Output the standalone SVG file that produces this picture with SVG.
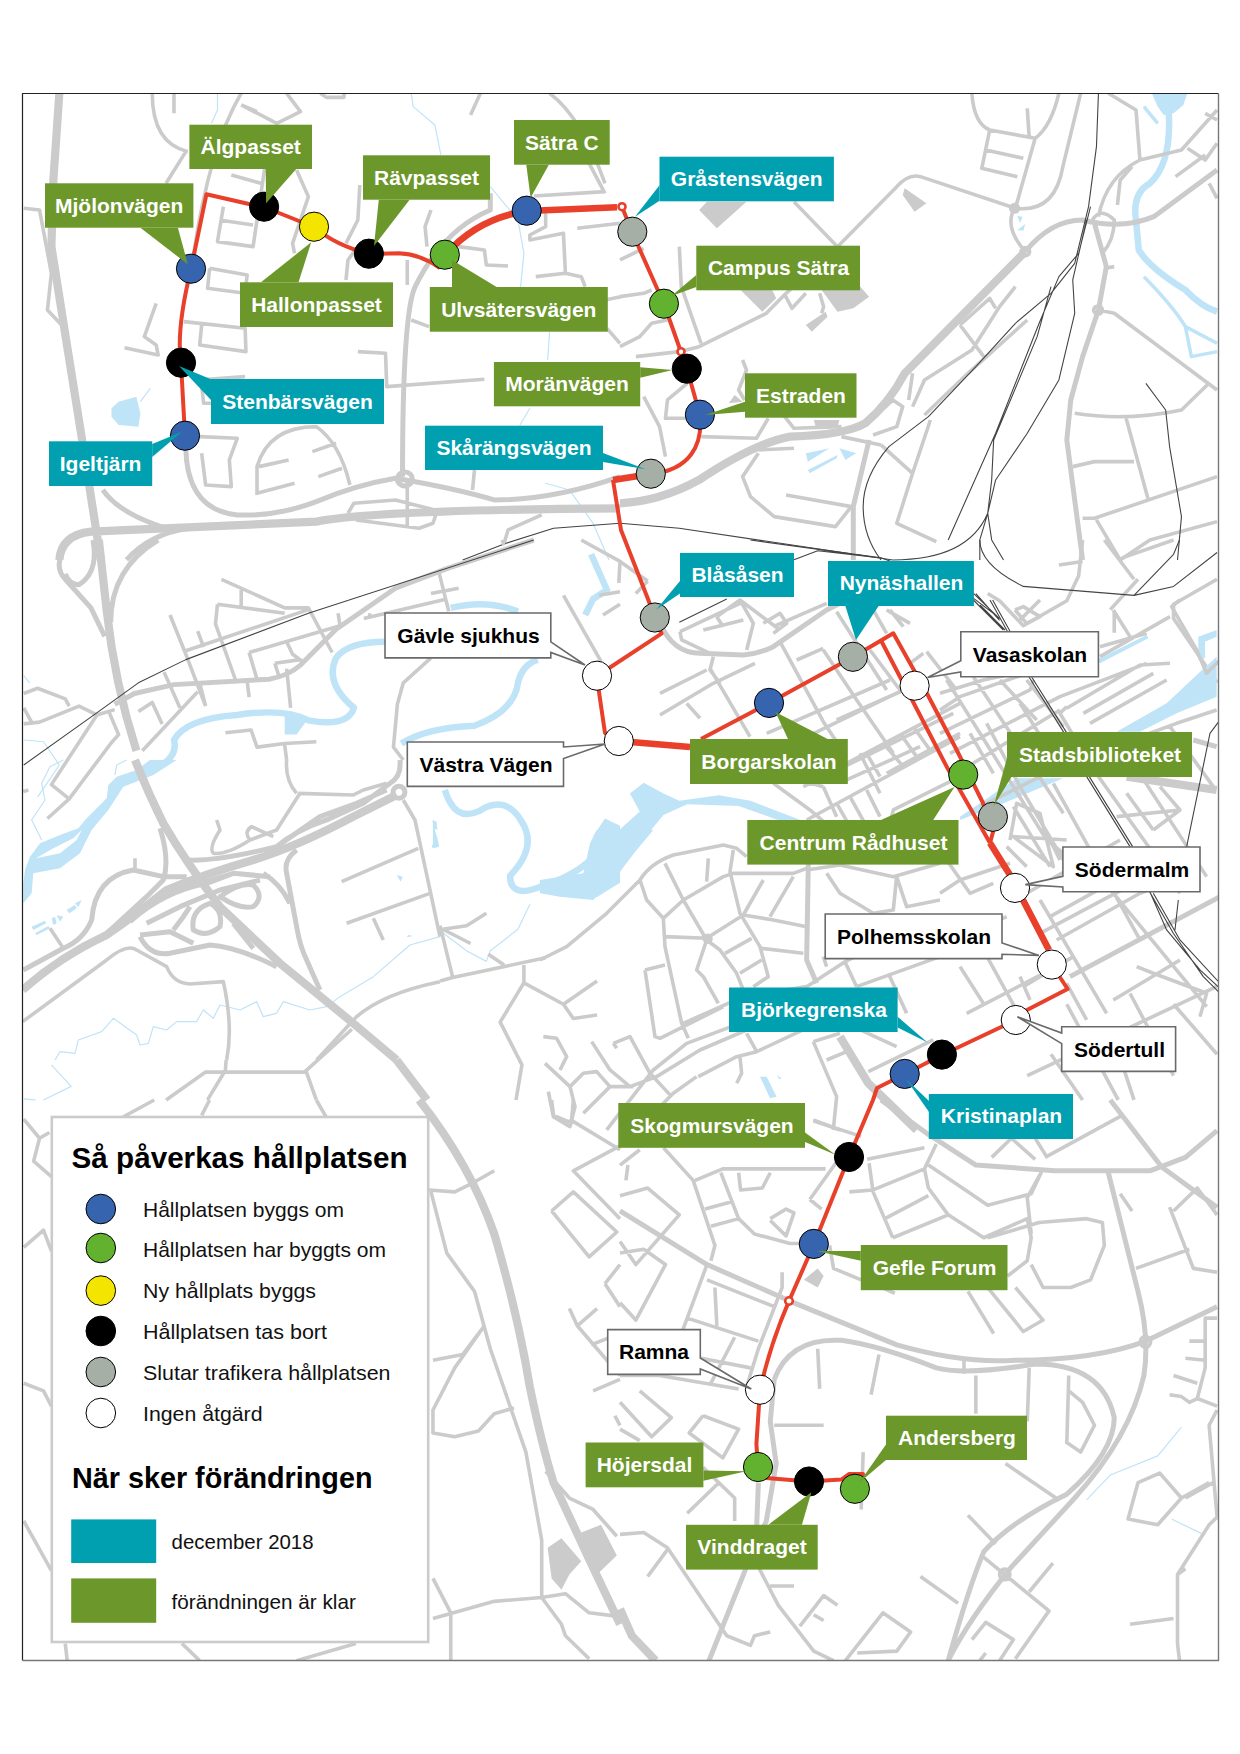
<svg xmlns="http://www.w3.org/2000/svg" width="1240" height="1754" viewBox="0 0 1240 1754">
<defs><clipPath id="mapclip"><rect x="22.5" y="93.5" width="1196" height="1567"/></clipPath></defs>
<style>
path{fill:none;stroke-linejoin:round;vector-effect:non-scaling-stroke}
.r1{stroke:#cbcbcb;stroke-width:3.6}
.r2{stroke:#cbcbcb;stroke-width:5}
.r3{stroke:#cbcbcb;stroke-width:8.2}
.rail{stroke:#444;stroke-width:1.1}
.w1{stroke:#bfe4f8;stroke-width:1.2}
.w2{stroke:#bfe4f8;stroke-width:6.5}
.w3{stroke:#bfe4f8;stroke-width:3.5}
.wf{fill:#bfe4f8;stroke:none}
.bf{fill:#cbcbcb;stroke:none}
.hole{fill:#fff;stroke:none}
.route{fill:none;stroke:#e8402a;stroke-width:4;stroke-linejoin:round;vector-effect:none}
.thick{stroke-width:6.6}
.ring{fill:#fff;stroke:#e8402a;stroke-width:2.6}
circle.s{stroke:#000;stroke-width:1}
.blue{fill:#3764ae}.green{fill:#62b22f}.yellow{fill:#f4e500}.black{fill:#000}.gray{fill:#a5afa5}.white{fill:#fff}
.tl{fill:#00a0b1}.gr{fill:#6c972a}
.wb{fill:#fff;stroke:#6a6a6a;stroke-width:1.6}
text{font-family:"Liberation Sans",Arial,sans-serif}
.lab{font-size:21px;font-weight:700;text-anchor:middle;fill:#fff}
.lab.k{fill:#000}
.h{font-size:29.6px;font-weight:700;fill:#000}
.t{font-size:21px;fill:#111}
</style>
<rect width="1240" height="1754" fill="#fff"/>
<g id="map" clip-path="url(#mapclip)">
<g transform="translate(0,80) scale(.3954,.3333)">
<path class="w1" d="M1040 40L1045 80L1100 135L1115 225M1240 320L1310 420L1325 520L1315 640M1390 755L1385 840M1340 985L1315 1035M1380 1210L1440 1230L1500 1330L1540 1440M550 40L550 90L535 130M380 925L355 965"/>
<path class="wf" d="M282 985L300 965L345 950L355 1000L350 1040L300 1035L282 1010Z"/>
<path class="r3" d="M150 40L135 300L130 500L170 800L205 1060L255 1440M150 1440Q155 1365 230 1355L800 1325Q950 1290 1568 1285"/>
<path class="r2" d="M1240 340L1240 390Q1120 450 1050 620Q1018 700 1018 1190M470 1110Q475 1290 600 1305Q700 1310 800 1265Q900 1215 1000 1195Q1150 1225 1250 1260Q1400 1260 1568 1190M320 1440Q380 1360 480 1345M260 1230Q300 1300 420 1345"/>
<path class="r1" d="M60 385L100 390L130 580L120 690L160 740M385 40Q385 190 475 215M440 40L440 100M610 40Q530 200 490 520M470 215L420 310M610 75L700 130L760 95L725 40M650 95L610 75M810 40L825 52L870 52L870 40M1215 40L1190 105M1390 40Q1470 110 1530 310M585 285L660 310M670 260L640 500L550 485L565 380M555 420L640 435M910 315L905 420L875 490M750 270L780 350L740 490L745 520M1090 390L1075 440L1080 500M1040 720L1085 740M875 600L880 540L905 500M1030 540L1030 615M1160 500L1225 510L1230 555L1285 558M1380 400L1380 440L1340 465L1340 480L1425 460L1430 580L1355 590M1430 580L1470 590L1480 620M1490 250L1530 340M1350 348L1530 335M1460 445L1568 430M530 565L625 585L620 640L525 625L530 565M465 725L620 745L622 815L505 795L510 735M395 670L365 770L395 795L400 825L315 803M905 815L975 820L978 920L1225 898M1570 650L1530 660M1535 745L1568 790M510 915L515 970L560 970M500 900L620 890M505 1070L600 1075L580 1140L585 1220L520 1215L510 1120M650 1245L650 1160Q680 1040 800 1040Q860 1090 885 1215M655 1160L730 1140M650 1240L745 1210M790 1115L850 1090M805 1190L865 1165M880 1300L895 1270L1000 1260L1100 1290M900 1320L1060 1345L1095 1330L1105 1295M1030 1195L1030 1345M1275 1390L1285 1350L1370 1305M1200 1170L1195 1230"/>
<path class="r2" d="M1005 1197A19 21 0 1 0 1043 1197A19 21 0 1 0 1005 1197Z"/>
<path class="rail" d="M1170 1440L1280 1390L1400 1345L1568 1330"/>
</g>
<g transform="translate(620,80) scale(.3954,.3333)">
<path class="wf" d="M1345 40L1435 40L1425 75L1400 100L1375 105L1360 80Z"/>
<path class="w2" d="M1388 100Q1395 250 1340 310Q1295 340 1305 420L1312 510Q1340 565 1430 630Q1470 680 1510 695"/>
<path class="w3" d="M1325 80L1360 130M1325 590Q1400 680 1430 740L1445 830L1510 815M1430 740L1510 790"/>
<path class="wf" d="M470 1120L530 1105L475 1145ZM475 1170L550 1125L548 1135L480 1180ZM555 1105L597 1120L570 1140ZM1005 408L1018 410L1012 430ZM1005 450L1025 432L1020 452Z"/>
<path class="bf" d="M200 390L245 445L320 365L220 365ZM720 325L775 370L745 395L715 345ZM305 630L385 630L395 655L360 695ZM510 630L600 610L630 650L590 685L550 695ZM470 735L520 695L525 710L485 755ZM490 1020L555 1020L550 1040L495 1040ZM290 945L275 970L310 965Z"/>
<path class="r3" d="M1025 515L720 880Q680 970 620 1030Q570 1065 430 1070Q340 1090 200 1200Q100 1265 0 1270"/>
<path class="r2" d="M1025 515Q1090 420 1170 420Q1270 450 1350 410L1510 270M1200 430L1230 560L1210 690L1170 830L1140 960L1130 1080L1170 1440M630 1080L590 1280L590 1440"/>
<path class="r1" d="M890 40Q895 130 935 150L1050 175Q1090 140 1110 40M1030 85L1035 175M935 150L915 265L1005 290M925 210L1020 235M1165 40L1120 260Q1100 400 1000 385M1050 175L1000 385M1000 385L760 290Q730 280 700 320L550 500M998 385Q970 440 1025 515M1235 40L1305 90L1315 240M1315 240L1420 210L1510 90M1315 240Q1230 290 1210 410M1435 205L1480 240L1510 190M1405 290L1480 225M1490 310L1510 355M1510 120L1480 100M1295 260L1265 300L1258 375M1195 420Q1215 380 1250 420Q1250 480 1220 520M1225 565L1250 560M1210 690L1250 700L1510 930M1150 1000Q1280 1025 1420 990L1485 915M1280 1015L1335 1255M1145 1160L1200 1145L1300 1145M1170 1315L1200 1315L1510 1190M1205 1320L1265 1440M1265 1440L1340 1380L1510 1325M440 365L550 500M150 500L155 620L205 790M550 500L420 640L370 700L200 800L150 815L40 830M415 640L435 685L470 640M505 640L515 680L510 700M0 540L60 505M0 650L60 640L80 630M0 800L50 770L80 730L120 720M310 840L320 870L300 930L315 960M170 910L120 960L115 1015L165 1015M205 1070L345 1075L375 1015M410 1000L440 1045L560 1040M60 950L100 1040L115 1130M350 1110L440 1105M350 1120L310 1190L330 1250L390 1310L545 1340L585 1280L420 1245M660 1095L740 1180L700 1330L800 1385M740 1180L785 1020M560 1070L660 1095M645 1010L690 960L715 980L700 1040L640 1065M740 880L730 960M740 980L770 900L890 810L960 680L1000 620M770 1005L880 880L1030 720M860 735L920 830M860 735L935 655L950 685M988 385A10 11 0 1 0 1008 385A10 11 0 1 0 988 385ZM1014 515A10 11 0 1 0 1036 515A10 11 0 1 0 1014 515ZM1198 690A10 11 0 1 0 1220 690A10 11 0 1 0 1198 690Z"/>
<path class="rail" d="M1210 40L1205 200L1185 380L1150 550L1090 640L1000 730L900 860L780 1010L680 1100Q615 1190 615 1280Q615 1370 660 1440M1190 380L1160 520L1110 590L1060 730L950 1060L830 1380M1180 420L1145 600L1150 700L1110 900L1030 1060L950 1200L930 1300L910 1380L910 1440M1090 620L1055 770L945 1080L940 1200L930 1300L940 1380L970 1440M930 1300Q880 1440 690 1440M0 1330L150 1345L520 1410L690 1440M1330 910L1380 990L1390 1100L1420 1310L1410 1440"/>
</g>
<g transform="translate(0,540) scale(.3954,.3571)">
<path class="w1" d="M1340 1020L1310 1090L1240 1150L1230 1180L1180 1150L1120 1100M130 1470L180 1530L110 1568M60 1565L90 1568M60 380L75 400M60 560L110 565L150 630L95 720"/>
<path class="w2" d="M410 630Q450 600 440 560Q470 500 600 490Q720 470 780 505Q880 525 895 470Q820 400 850 330Q880 285 975 285M1015 570Q1080 525 1200 520Q1300 480 1310 400Q1320 350 1360 335M1140 190Q1230 165 1310 200M1125 700Q1150 790 1210 760Q1280 710 1320 790Q1360 860 1290 940Q1290 1010 1380 965Q1480 930 1530 850M1480 210L1500 165L1535 140L1495 40"/>
<path class="wf" d="M1500 830L1530 780L1568 800L1568 960L1510 1000L1490 1000L1500 900ZM720 480L780 500L750 545L720 545ZM1095 785L1110 860L1095 860Z"/>
<path class="r3" d="M250 0L270 200Q290 400 345 590M1003 1456L1080 1568"/>
<path class="r2" d="M175 0Q130 70 165 110L230 190L265 270M235 0Q250 90 200 125Q175 125 165 95M400 0Q280 80 280 230M290 460L340 430L440 405L680 390Q730 380 760 350L850 250L1000 135L1130 80L1350 0"/>
<path class="r1" d="M1020 616L995 580L1005 460L1020 400L1090 330M60 430L95 415L165 445L175 465M60 515L100 510L200 465L245 490L290 475M60 470L80 510M245 490L130 685L175 725L280 570L300 545L275 480M175 725L120 780M560 110L720 190L780 190L840 315M430 210L470 320L520 465M610 140L610 185M550 180L720 205M550 180L545 235L595 390M500 255L515 300M470 310L780 195M630 315L650 390M630 315L860 240M725 285L740 320L765 340M695 345L760 335M695 345L705 380M725 360L735 470M625 395L630 440M415 370L455 470M505 400L520 465M500 425L360 590M350 480L385 455L410 515M1110 90L1135 200M1090 150L1160 135M920 220L1130 165M935 205L935 220M855 205L860 240M1425 155L1520 340M570 540L635 532L650 580L720 570L800 565M720 575L725 616M1113 1080L1145 1225M1120 1090L1180 1080L1230 1045M1120 1090L1190 1130M1235 1160L1275 1190M572 1456L570 1485M420 1568L520 1490L770 1490L890 1370M570 1485L525 1568M775 1490L800 1568M1113 1235L1145 1225L1380 1170M1325 1190L1325 1240L1265 1350L1320 1470L1305 1568M1325 1240L1425 1300L1450 1340L1510 1330M1425 1300L1510 1235M1525 210L1568 180M1515 155L1568 145M1470 0L1568 60L1565 120M1270 0L1275 15"/>
<path class="rail" d="M60 630L250 480L350 400L470 335L780 205L1350 0"/>
</g>
<g transform="translate(620,540) scale(.3954,.3571)">
<path class="wf" d="M0 930L0 810L50 760L25 710L60 680L110 710L150 730L250 715L330 730L400 760L470 790L440 800L300 745L170 740L110 770L50 850Z"/>
<path class="r1" d="M1170 0L1160 100L1130 170L1020 240L960 170L930 150M1240 195L1310 110M1250 200L1250 260M1510 110L1400 180L1400 220L1480 350L1510 400M1110 70L1170 60M1225 0L1300 110M1270 50L1400 0M590 0L590 50M0 60L70 115M70 115L40 150M1030 1500L1510 1250M1130 1300L1260 1568M1250 1400L1300 1568M1400 1300L1510 1440M1290 1270L1400 1500M1170 1568L1090 1440"/>
<path class="rail" d="M150 230L270 165M440 55L500 30L660 50M330 0L660 50L890 145L960 220M890 160L950 210M900 150L960 225M910 0Q910 70 1020 130L1300 155L1400 40L1415 0M1510 35L1400 130L1300 155"/>
</g>
<g transform="translate(20,760) scale(.3333)">
<path class="wf" d="M10 430L35 400L40 340L120 325L180 280L215 210L265 150L310 80L400 45L470 0L390 0L350 30L290 50L265 75L260 115L200 175L175 205L120 225L60 250L30 290L15 330L10 370Z"/>
<path class="hole" d="M48 295L100 265L160 235L185 210L170 240L120 280L70 290Z"/>
<path class="wf" d="M35 500L75 482L78 490L40 510ZM45 520L85 498L90 505L50 525ZM95 475L105 470L110 490L100 495ZM110 465L130 470L120 485ZM140 450L165 435L170 445L148 460ZM165 430L185 420L175 442ZM1235 260L1250 225L1258 260L1240 265ZM1130 345L1148 350L1142 365ZM1165 525L1180 528L1160 532ZM1237 180L1250 185L1252 210L1242 205Z"/>
<path class="w1" d="M105 900L120 875L165 880L175 840L245 815L280 775L350 825L360 855L385 850L400 800L440 810L470 785L530 785L550 750L580 775L600 735L660 750L710 725L730 770L770 760L790 725L870 750L920 740L960 710L1060 650L1170 555L1260 530M65 240L35 180L75 120L65 70L90 20L130 0M285 45L290 15L320 0"/>
<path class="r3" d="M345 0Q385 100 430 190Q500 310 600 440L780 610L1000 790L1130 900M8 690Q120 590 260 525Q340 470 440 390Q560 340 700 300Q830 260 1000 170L1130 105"/>
<path class="r2" d="M10 630L130 565Q190 540 215 480Q225 350 340 330L430 350L500 350M420 205Q450 300 430 360L380 410L260 520M500 300Q590 305 770 260Q830 210 920 180L1030 130L1110 70Q1145 50 1140 0M770 260L900 170L1010 130L1100 90M830 270Q790 300 800 340L830 500Q840 560 860 600L900 690M730 340Q780 370 810 430M600 410Q660 450 700 440Q735 410 700 375Q660 365 600 410ZM570 430Q510 450 520 510Q560 535 600 500Q610 450 570 430ZM360 530Q390 590 450 580L570 555Q650 560 770 620M360 525L450 515L520 550M330 485Q430 395 560 370L640 340M440 400L640 340L750 350M380 490L480 440L600 390L720 360M460 510L490 470L510 440M640 490L700 565M1119 97A18 18 0 1 0 1155 97A18 18 0 1 0 1119 97Z"/>
<path class="r1" d="M8 785L260 600Q320 550 350 570L440 620Q460 670 510 672L610 665Q640 800 620 900M345 295L345 325M840 100L770 210L690 240Q670 215 695 200L760 230M690 240Q620 285 580 280Q565 265 600 210L590 180M830 100Q795 60 800 0M835 100L1000 105L1030 90L1100 70M1150 120L1185 180L1260 530M965 365L1195 265M980 490L1230 400M1060 475L1090 540M90 505L130 565M10 95L25 90M890 900L1010 770Q1090 700 1260 665"/>
</g>
<g transform="translate(660,590) scale(.3333)">
<path class="r2" d="M0 100Q40 190 120 190L250 195Q300 190 340 170L500 60L540 40"/>
<path class="r1" d="M60 125L240 40M60 125L65 150L150 190M170 80L240 30L360 120M170 80L190 110M130 120L250 90M240 30L280 100L260 180M310 100L360 70L380 100L340 130M340 110L500 40M0 375L160 280L285 220M0 310L140 240M80 340L120 385M410 210L490 175M150 235L270 440M160 200L150 240L180 280M360 155L490 395L560 500M490 180L590 330L700 490M530 65L680 300M630 180L720 300M640 60L680 130M690 60L730 110M680 60L750 100M790 190L750 220M800 185L890 300M320 430L690 270M400 460L770 280M530 390L800 270M560 520L900 340M680 550L900 430M560 570L780 470M420 570L490 590M430 590L880 370M600 490L660 610M620 490L660 560M670 460L730 530M720 430L770 500M760 410L810 480M440 690L900 440M340 580L450 660L520 720M490 590L530 680M530 640L570 710M570 620L620 710M620 600L660 680M690 700L700 660L900 560"/>
</g>
<g transform="translate(940,600) scale(.3333)">
<path class="wf" d="M530 395L680 310L770 225L830 170L830 290L710 340L600 395ZM60 650L230 535L370 535L190 610L60 660ZM470 180L620 105L625 115L480 190ZM775 110L830 90L830 110L795 125L795 175L775 180Z"/>
<path class="r3" d="M560 530L830 570"/>
<path class="r2" d="M390 1130L840 890M760 420L830 440"/>
<path class="r1" d="M0 280L130 240L270 210M0 330L60 290L260 220M0 400L270 270L280 240M30 460L360 290L620 190M50 520L360 330M120 620L240 560L380 490L710 370L830 330M480 170L690 50M380 325L600 195L690 190M430 340L640 220M450 370L680 240M530 650L720 630L640 690M480 140L620 100M0 880L60 840L210 790M260 880L540 720M330 950L600 800M350 1020L600 880L700 840M300 1000L620 830M250 1160L400 1070M80 1240L350 1100M520 1200L720 1080M0 1040L200 950M20 240L320 720L420 800M100 230L370 640M180 240L290 360M260 240L370 380M520 30L570 110M90 400L160 520M140 370L240 560L400 830M240 310L340 470M380 320L360 340L390 390L440 480L640 760L720 880M540 430L800 830M690 380L820 560M660 560L720 630M560 580L640 690M340 550L600 1020M430 770L800 1220M220 620L330 800M200 740L260 800M290 640L360 780M20 780L90 880L160 850M300 900L500 1240M380 1150L440 1260M130 1050L240 1250M60 1100L130 1210M240 1130L270 1200M590 1100L640 1120L800 1180L780 1250M240 60L300 0M225 30L260 70L300 50L250 20L225 30M720 0L695 20L770 150L800 220L840 180M210 720L230 610L300 640L340 800L220 710L380 720"/>
<path class="rail" d="M150 0L200 90L260 220L370 395L440 530L570 740L680 990L780 1110L840 1165M158 0L208 90L268 220L378 395L448 530L578 740M100 0L190 90M120 15L195 90M840 360L810 400L740 740M715 900L705 990M620 860L700 1000L790 1130L840 1180M640 880L720 1020L840 1150"/>
</g>
<g transform="translate(540,830) scale(.3333)">
<path class="wf" d="M0 150L130 130L150 40L170 0L340 0L290 60L220 150L160 210L60 200L0 190ZM660 740L680 740L710 800L690 805ZM710 735L725 745L718 748Z"/>
<path class="r2" d="M805 100L800 390L830 460"/>
<path class="r3" d="M900 620L985 760L1130 900"/>
<path class="r1" d="M0 390L80 350L200 250L300 150Q330 100 400 75L550 45L590 55L620 80M300 150L320 210L370 265L375 350L425 580L445 625M375 100L430 210L500 330L540 360L590 430L610 480M370 265L430 210L550 140L580 130L760 130L800 115M505 85L500 155M580 60L570 125L600 250L660 350L685 440L640 470M375 320L500 325L610 255L700 270L800 290M610 255L670 150M690 260L760 140M555 370L635 325M600 430L665 390M665 355L790 370M500 330L470 420L490 440L535 520M430 580L610 500L800 470L915 395L1070 320L1200 290M315 420L375 405M315 420L345 620L360 625L550 530M220 640L270 620L330 730L395 800M220 640L230 655M155 635L210 720L270 770L350 740L480 660L620 600M210 770L280 770M15 700L90 770L130 730L170 725L210 770L130 850M10 620L50 625L80 680L60 720M90 770L105 830L90 890L40 860L25 785M200 900L340 720L440 640L600 580L760 490M290 900L400 790L470 740M475 740L590 680L650 665L810 590M600 680L605 730L590 760M620 610L650 665M820 635L890 800L880 900M820 635L900 610M860 690L920 665M985 725L1180 630M940 590L1070 650M820 870L900 900M860 130L900 190L1000 250L1060 240L1070 140L1100 230L1200 210M800 120L900 105L1060 140L1200 100M850 380L860 410M915 395L950 470M1045 430L1100 550M950 470L1200 380"/>
<path class="r1" d="M493 326A10 10 0 1 0 513 326A10 10 0 1 0 493 326Z"/>
</g>
<g transform="translate(0,1100) scale(.3954,.3827)">
<path class="r3" d="M1060 0Q1190 170 1250 350Q1310 560 1340 750Q1370 900 1400 1000L1490 1200L1568 1370"/>
<path class="bf" d="M1385 1170L1420 1145L1470 1205L1440 1240L1420 1280L1395 1250ZM1470 1130L1520 1110L1560 1190L1510 1240L1490 1190Z"/>
<path class="r1" d="M800 0L825 45M510 40L530 0M310 45L390 0M60 50L100 100L125 85M100 100L85 160L130 200M60 385L110 340L130 395M60 740L110 760L130 800M60 1100L130 1230M1085 235L1150 240L1190 220L1250 185M1090 240L1130 400L1200 500L1240 650L1330 920L1370 1150L1370 1300L1420 1370L1430 1400L1490 1460M1095 680L1170 665L1225 590M1225 590L1150 700L1095 810L1095 870L1150 880L1210 865L1250 820L1300 805M1095 1250L1140 1340L1140 1465M1095 1355L1250 1310L1370 1300M1370 1300L1430 1290L1490 1340L1568 1350M1380 970L1440 1040L1500 1070L1560 1140M165 1420L170 1465M460 1420L505 1465M750 1465L900 1420M1395 0L1400 40L1445 60L1450 0M1440 50L1568 130M1568 120L1450 185L1568 310M1395 290L1450 240L1560 345L1490 410L1395 290M1440 545L1460 590L1510 545M1460 590L1568 720M1495 640L1568 610M1500 760L1568 730M1530 480L1568 430M1530 480L1568 540M1555 825L1568 850"/>
</g>
<g transform="translate(620,1100) scale(.3954,.3827)">
<path class="w1" d="M1420 855L1360 930L1240 980L1180 1045M1395 1095L1475 1135L1440 1195"/>
<path class="r3" d="M0 1330L30 1400L90 1465"/>
<path class="r2" d="M660 0L780 90L900 170L1100 185L1340 185L1430 150L1510 80M1240 0L1370 175L1510 280M1235 190L1310 500Q1340 620 1325 720Q1290 880 1150 1040L990 1220Q880 1360 830 1465M1510 540L1330 630Q1200 680 1000 680Q870 690 700 640L440 530L220 430L0 290M390 730Q430 620 560 628Q650 640 800 700Q870 720 1050 690Q1220 690 1250 830Q1250 920 1130 1030Q990 1100 920 1180Q880 1280 830 1465M390 730L380 840L395 950L370 1100L320 1220L225 1465M350 1000L345 1130"/>
<path class="r1" d="M350 1220L400 1320L490 1440L540 1465M380 1270L440 1270M455 1375L515 1295L550 1320M490 1345L515 1360M570 1465L665 1340L735 1390L700 1440L600 1445M0 1135L60 1130L120 1170L270 1400L330 1425L340 1400L380 1390M70 1245L120 1175M870 680L870 715M900 720L900 820M1035 700L1030 840M1135 720L1130 895L1165 920L1200 850L1170 790L1135 760M975 950L1110 1045M880 1085L950 1160M760 1245L855 1315M1035 1285L1095 1210M920 1195L1085 1335L1000 1460M890 1410L925 1365L995 1410L960 1465M910 1465L925 1445M1290 1370L1400 1355M1430 1225L1410 1240L1410 1420L1415 1465M1490 1000L1420 1040L1360 1110L1285 1095L1310 1000L1365 975L1420 1040M1410 1240L1490 1110L1510 1090M1510 810L1490 850L1510 1090M1430 1040L1500 1000M1510 570L1480 570L1480 700L1460 780L1510 800M1440 630L1480 630M1430 675L1480 680M1400 720L1460 740M1390 770L1420 775L1440 790L1460 780M490 55L610 95M625 155L770 125M630 165L640 240L690 360M580 240L640 235L770 180L800 115M770 180L780 230L830 300L920 360L1030 310L1040 360L1030 420L980 460M1040 430L1070 490L1140 490L1190 470L1225 380L1220 320L1180 310L1060 320L930 360M670 310L780 250M690 360L830 300M780 170L880 240L930 275L1040 245L1065 190L1030 255L1040 350M880 500L945 610M930 490L1020 605L1070 575L1000 490M940 150L990 100L1050 155M1050 100L1080 150M1075 150L1270 40M1400 290L1460 230L1510 300M1390 280L1450 440L1510 450M1305 440L1440 390M1265 245L1295 290M0 250L70 230L150 300L40 430L0 370M110 125L185 210L240 380L230 420M190 210L260 180L520 180M255 190L300 310L340 350L430 375L500 375M300 190L305 235L360 230L380 190M380 310L420 285L440 295L420 355L380 315M215 285L285 265M230 330L300 310M480 260L510 285M570 130L480 260M220 430L170 570L130 680M170 570L350 630M130 660L330 700M240 490L245 590M230 740L290 620M410 450L410 490L350 650L320 750M220 470L390 540M0 400L60 390L115 430L40 575L0 530M50 760L130 830L80 880L0 790M0 860L50 890M210 825L300 860L260 935L175 870L210 825M0 720L100 720L300 755M210 960L290 1040L290 1100M170 1080L250 1000M530 380L540 440L610 470M640 480L695 505M15 210L20 170M0 170L50 130M390 850L515 850M500 650L505 755M655 665L635 770M615 920L610 1070M960 1240A12 13 0 1 0 986 1240A12 13 0 1 0 960 1240ZM1316 632A12 13 0 1 0 1342 632A12 13 0 1 0 1316 632Z"/>
<path class="bf" d="M465 470L500 440L515 460L500 490Z"/>
</g>
</g>
<path d="M22.5 1660.5V93.5H1218.5" stroke="#222" stroke-width="1.2"/>
<path d="M22.5 1660.5H1218.5V93.5" stroke="#777" stroke-width="1.4"/>
<g id="connectors">
<path class="route" d="M185 436L181 363Q176 330 191 269L206.4 194.3L249 204L264 207L314 227Q335 245 369 254L399 253.3Q420 254 440 268"/>
<path class="route thick" d="M445 255Q478 218 527 211L617 207.3"/>
<path class="route" d="M622 206.7L632 232L664 304L687 369L700 415C703 445 690 470 651 474"/>
<path class="route thick" d="M651 474L613 480"/>
<path class="route" d="M613 480L621 530L655 617L661.5 633.6L597 676L599 692L605 733L619 741"/>
<path class="route thick" d="M619 741L690 747"/>
<path class="route" d="M701 739L769 703L853 657L893.3 633.3L926.7 693L956.7 750L983 803L993 832L990 843"/>
<path class="route" d="M881.7 641.7L913 701.7L946.7 766.7L990 843"/>
<path class="route thick" d="M990 843L1010 875L1049 950"/>
<path class="route" d="M1052 965L1067.6 989L1027 1010L1016 1020L942 1055L905 1074L877 1088L873 1100L849 1157L814 1244L789 1301Q770 1345 760 1390L756.4 1444L758 1467L766.3 1478L809 1481.5L841.4 1479.6L849 1474L863 1474L855 1489"/>
<circle class="ring" cx="622" cy="206.7" r="3.5"/>
<circle class="ring" cx="681" cy="351.7" r="3.5"/>
<circle class="ring" cx="789" cy="1301" r="3.8"/>
</g>
<g id="n-algpasset"><circle class="s black" cx="264.1" cy="206.7" r="14.6"/><rect class="gr" x="189.4" y="124.7" width="122.6" height="44.3"/><polygon class="gr" points="265.7,169 296.2,169 266.1,203.3"/><text class="lab" x="250.7" y="154">Älgpasset</text></g>
<g id="n-mjolonvagen"><circle class="s blue" cx="191" cy="268.7" r="14.6"/><rect class="gr" x="45" y="183.3" width="148.4" height="44.4"/><polygon class="gr" points="140.4,227.7 177.9,227.7 187.8,264.3"/><text class="lab" x="119.2" y="212.5">Mjölonvägen</text></g>
<g id="n-ravpasset"><circle class="s black" cx="368.9" cy="253.7" r="14.6"/><rect class="gr" x="363" y="155.3" width="127" height="44.4"/><polygon class="gr" points="378.8,199.7 409.6,199.7 374,246"/><text class="lab" x="426.5" y="184.5">Rävpasset</text></g>
<g id="n-satrac"><circle class="s blue" cx="526.7" cy="210.7" r="14.6"/><rect class="gr" x="514" y="120" width="95.7" height="44.7"/><polygon class="gr" points="526.3,164.7 548.8,164.7 530.6,197.7"/><text class="lab" x="561.8" y="149.5">Sätra C</text></g>
<g id="n-hallonpasset"><circle class="s yellow" cx="314" cy="226.7" r="14.6"/><rect class="gr" x="240" y="282.3" width="153" height="44.7"/><polygon class="gr" points="261,282.3 298.5,282.3 311.2,242.3"/><text class="lab" x="316.5" y="312">Hallonpasset</text></g>
<g id="n-ulvsatersvagen"><circle class="s green" cx="444.8" cy="254.7" r="14.6"/><rect class="gr" x="429.8" y="287" width="178" height="44.7"/><polygon class="gr" points="452,287 496.6,287 452,260"/><text class="lab" x="518.8" y="316.5">Ulvsätersvägen</text></g>
<g id="n-stenbarsvagen"><circle class="s black" cx="181" cy="362.7" r="14.6"/><rect class="tl" x="211" y="379" width="173" height="45"/><polygon class="tl" points="211,379.3 211,400 179,366"/><text class="lab" x="297.5" y="408.5">Stenbärsvägen</text></g>
<g id="n-igeltjarn"><circle class="s blue" cx="185" cy="435.7" r="14.6"/><rect class="tl" x="49" y="441.3" width="103.2" height="44.7"/><polygon class="tl" points="152.2,444 152.2,457 182,431.7"/><text class="lab" x="100.6" y="471">Igeltjärn</text></g>
<g id="n-moranvagen"><circle class="s black" cx="686.8" cy="368.7" r="14.6"/><rect class="gr" x="493.9" y="362" width="146.3" height="44.3"/><polygon class="gr" points="640.2,367.3 640.2,377.7 672.6,370"/><text class="lab" x="567" y="391">Moränvägen</text></g>
<g id="n-skarangsvagen"><circle class="s gray" cx="650.8" cy="473.7" r="14.6"/><rect class="tl" x="425" y="425.7" width="178" height="44.3"/><polygon class="tl" points="603,453 603,462 645.7,469.3"/><text class="lab" x="514" y="455">Skårängsvägen</text></g>
<g id="n-grastensvagen"><circle class="s gray" cx="632.3" cy="231.7" r="14.6"/><rect class="tl" x="659.5" y="156.7" width="174.4" height="44.6"/><polygon class="tl" points="659.5,185.3 659.5,200.7 635,216.7"/><text class="lab" x="746.7" y="186">Gråstensvägen</text></g>
<g id="n-campus-satra"><circle class="s green" cx="663.9" cy="303.7" r="14.6"/><rect class="gr" x="696.3" y="245.7" width="163.7" height="44.6"/><polygon class="gr" points="696.3,275 696.3,287 671.4,296"/><text class="lab" x="778.5" y="275">Campus Sätra</text></g>
<g id="n-estraden"><circle class="s blue" cx="699.9" cy="414.7" r="14.6"/><rect class="gr" x="745" y="373.3" width="111.5" height="44.4"/><polygon class="gr" points="745,401.7 745,411.7 705,415"/><text class="lab" x="801" y="402.5">Estraden</text></g>
<g id="n-blasasen"><circle class="s gray" cx="654.8" cy="617.5" r="14.6"/><rect class="tl" x="680" y="552.9" width="114" height="44.1"/><polygon class="tl" points="680,581 680,593.6 656.4,609.6"/><text class="lab" x="737.5" y="581.5">Blåsåsen</text></g>
<g id="n-nynashallen"><circle class="s gray" cx="852.9" cy="656.8" r="14.6"/><rect class="tl" x="828" y="561" width="145.9" height="45"/><polygon class="tl" points="845.4,606 878.6,606 856,640"/><text class="lab" x="901.5" y="590">Nynäshallen</text></g>
<g id="n-vasaskolan"><circle class="s white" cx="914.6" cy="685.7" r="14.6"/><polygon class="wb" points="960.8,631.8 1098.4,631.8 1098.4,676.8 960.8,676.8 960.8,672 927.6,677.5 960.8,660.7"/><text class="lab k" x="1030" y="662">Vasaskolan</text></g>
<g id="n-gavle-sjukhus"><circle class="s white" cx="597" cy="675.7" r="14.6"/><polygon class="wb" points="385,613 550.8,613 550.8,641.8 585,665 550.8,652.5 550.8,657.9 385,657.9"/><text class="lab k" x="468.5" y="643">Gävle sjukhus</text></g>
<g id="n-vastra-vagen"><circle class="s white" cx="618.8" cy="741" r="14.6"/><polygon class="wb" points="407.3,742 563.5,742 563.5,747 605,744 563.5,758.6 563.5,786.4 407.3,786.4"/><text class="lab k" x="486" y="772">Västra Vägen</text></g>
<g id="n-borgarskolan"><circle class="s blue" cx="769" cy="702.9" r="14.6"/><rect class="gr" x="690" y="739" width="157.8" height="45"/><polygon class="gr" points="788,739 827.6,739 775.4,712"/><text class="lab" x="769" y="768.5">Borgarskolan</text></g>
<g id="n-stadsbiblioteket"><circle class="s gray" cx="992.9" cy="816.8" r="14.6"/><rect class="gr" x="1007" y="732" width="185" height="45"/><polygon class="gr" points="1007,758 1011.5,777 993.7,806"/><text class="lab" x="1100" y="762">Stadsbiblioteket</text></g>
<g id="n-centrum-radhuset"><circle class="s green" cx="963.2" cy="774.6" r="14.6"/><rect class="gr" x="747.3" y="820" width="211.2" height="44.6"/><polygon class="gr" points="881,820 933.2,820 954.5,787"/><text class="lab" x="853.5" y="850">Centrum Rådhuset</text></g>
<g id="n-sodermalm"><circle class="s white" cx="1015" cy="887.9" r="14.6"/><polygon class="wb" points="1062.9,847 1200,847 1200,891.8 1062.9,891.8 1062.9,887 1025.3,884.6 1062.9,876.4"/><text class="lab k" x="1132" y="877">Södermalm</text></g>
<g id="n-polhemsskolan"><circle class="s white" cx="1051.8" cy="964.6" r="14.6"/><polygon class="wb" points="825.2,914 1002,914 1002,942.9 1039,955.4 1002,954.3 1002,958.6 825.2,958.6"/><text class="lab k" x="914" y="944">Polhemsskolan</text></g>
<g id="n-sodertull"><circle class="s white" cx="1015.8" cy="1020" r="14.6"/><polygon class="wb" points="1061.7,1026.8 1175.6,1026.8 1175.6,1071.4 1061.7,1071.4 1061.7,1043.6 1017.4,1016.8 1061.7,1033"/><text class="lab k" x="1119.5" y="1057">Södertull</text></g>
<g id="n-bjorkegrenska"><circle class="s black" cx="941.9" cy="1054.6" r="14.6"/><rect class="tl" x="729" y="987.5" width="168.6" height="44.5"/><polygon class="tl" points="897.6,1016.8 897.6,1027.5 927.6,1042.5"/><text class="lab" x="814" y="1016.5">Björkegrenska</text></g>
<g id="n-kristinaplan"><circle class="s blue" cx="904.7" cy="1073.9" r="14.6"/><rect class="tl" x="928.8" y="1094" width="144.2" height="45"/><polygon class="tl" points="906,1079 929,1101 929,1112"/><text class="lab" x="1001.5" y="1123">Kristinaplan</text></g>
<g id="n-skogmursvagen"><circle class="s black" cx="849" cy="1157" r="14.6"/><rect class="gr" x="618.3" y="1103" width="186.7" height="44.8"/><polygon class="gr" points="805,1132.5 805,1142 835.5,1154.7"/><text class="lab" x="712" y="1133">Skogmursvägen</text></g>
<g id="n-gefle-forum"><circle class="s blue" cx="813.8" cy="1243.9" r="14.6"/><rect class="gr" x="860.8" y="1245" width="146.7" height="45.2"/><polygon class="gr" points="860.8,1251 860.8,1260.7 816.5,1251"/><text class="lab" x="934.5" y="1274.5">Gefle Forum</text></g>
<g id="n-ramna"><circle class="s white" cx="760" cy="1389.7" r="14.6"/><polygon class="wb" points="607.7,1329.6 700.3,1329.6 700.3,1358 751.3,1389 700.3,1369 700.3,1374.4 607.7,1374.4"/><text class="lab k" x="654" y="1359">Ramna</text></g>
<g id="n-hojersdal"><circle class="s green" cx="758" cy="1467" r="14.6"/><rect class="gr" x="585.6" y="1442.5" width="117.8" height="44.8"/><polygon class="gr" points="703.4,1470.5 703.4,1480.8 746.5,1471.2"/><text class="lab" x="644.5" y="1472">Höjersdal</text></g>
<g id="n-vinddraget"><circle class="s black" cx="809" cy="1481.5" r="14.6"/><rect class="gr" x="686" y="1524.8" width="131.7" height="44.8"/><polygon class="gr" points="768.3,1524.8 801.9,1524.8 811.4,1492.3"/><text class="lab" x="752" y="1554">Vinddraget</text></g>
<g id="n-andersberg"><circle class="s green" cx="854.9" cy="1488.8" r="14.6"/><rect class="gr" x="886" y="1415.7" width="141" height="44.3"/><polygon class="gr" points="886,1444.4 886,1460 859.2,1482.7"/><text class="lab" x="957" y="1445">Andersberg</text></g>
<g id="legend">
<rect x="51.8" y="1117" width="376.4" height="525" fill="#fff" stroke="#cbcbcb" stroke-width="2.6"/>
<text class="h" x="71.6" y="1168" textLength="336" lengthAdjust="spacingAndGlyphs">Så påverkas hållplatsen</text>
<circle class="s blue" cx="100.8" cy="1209" r="14.8"/><text class="t" x="143" y="1216.7" textLength="201" lengthAdjust="spacingAndGlyphs">Hållplatsen byggs om</text>
<circle class="s green" cx="100.8" cy="1248" r="14.8"/><text class="t" x="143" y="1256.5" textLength="243" lengthAdjust="spacingAndGlyphs">Hållplatsen har byggts om</text>
<circle class="s yellow" cx="100.8" cy="1290.6" r="14.8"/><text class="t" x="143" y="1298" textLength="173" lengthAdjust="spacingAndGlyphs">Ny hållplats byggs</text>
<circle class="s black" cx="100.8" cy="1331" r="14.8"/><text class="t" x="143" y="1339.4" textLength="184" lengthAdjust="spacingAndGlyphs">Hållplatsen tas bort</text>
<circle class="s gray" cx="100.8" cy="1372" r="14.8"/><text class="t" x="143" y="1379.7" textLength="247.5" lengthAdjust="spacingAndGlyphs">Slutar trafikera hållplatsen</text>
<circle class="s white" cx="100.8" cy="1413" r="14.8"/><text class="t" x="143" y="1420.7" textLength="119.5" lengthAdjust="spacingAndGlyphs">Ingen åtgärd</text>
<text class="h" x="72" y="1488.3" textLength="300.5" lengthAdjust="spacingAndGlyphs">När sker förändringen</text>
<rect class="tl" x="71.2" y="1519.4" width="85" height="43.6"/><text class="t" x="171.6" y="1548.5" textLength="142" lengthAdjust="spacingAndGlyphs">december 2018</text>
<rect class="gr" x="71.2" y="1578.4" width="85" height="44.4"/><text class="t" x="171.6" y="1609" textLength="184.3" lengthAdjust="spacingAndGlyphs">förändningen är klar</text>
</g>
</svg>
